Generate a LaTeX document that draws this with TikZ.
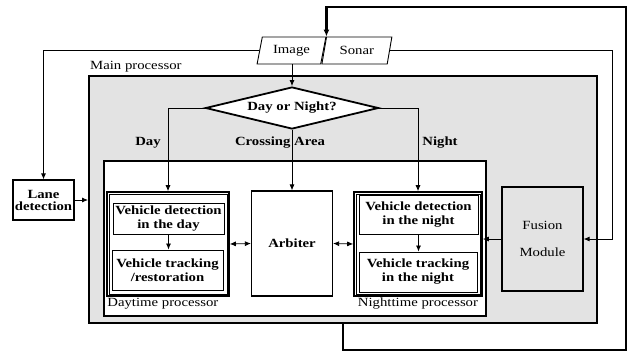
\documentclass[tikz,border=0pt]{standalone}
\usepackage{fontspec}
\setmainfont[FakeStretch=1.18]{Liberation Serif}
\usepackage{tikz}
\usetikzlibrary{positioning,shapes.geometric,arrows.meta}

\begin{document}
\begin{tikzpicture}[x=1pt,y=-1pt,
font=\fontsize{12.5}{14}\selectfont,
box/.style={draw,rectangle,line width=0.9pt,inner sep=1pt,align=center,font=\fontsize{12.5}{14}\selectfont\bfseries},
bigbox/.style={draw,rectangle,line width=1.5pt,align=center},
procbox/.style={draw,rectangle,line width=1.6pt},
iobox/.style={draw,trapezium,trapezium left angle=75,trapezium right angle=105,trapezium stretches=true,line width=0.9pt,minimum height=27pt,inner sep=1pt,fill=white},
branch/.style={font=\fontsize{12.5}{14}\selectfont\bfseries,inner sep=0pt},
flow/.style={line width=0.8pt,-{Latex[length=6pt,width=5pt]}},
both/.style={line width=0.8pt,{Latex[length=6pt,width=5pt]}-{Latex[length=6pt,width=5pt]}},
loopline/.style={line width=2.2pt,-{Latex[length=7pt,width=6pt]}}]

\useasboundingbox (0,0) rectangle (631,354);

% main processor
\node (main) [bigbox,line width=2pt,fill=gray!22,minimum width=508pt,minimum height=247pt] at (343,199.5) {};
\node (mainlbl) [above right=3pt and 2pt of main.north west,inner sep=0pt] {Main processor};

% inputs
\node (image) [iobox,minimum width=69pt] at (291.5,50.5) {Image};
\node (sonar) [iobox,minimum width=70pt,right=0pt of image] {Sonar};

\node (dn) [diamond,draw,line width=1.8pt,fill=white,aspect=4,inner sep=0pt,
    minimum width=173pt,minimum height=42pt,font=\fontsize{12.5}{14}\selectfont\bfseries] at (292,108) {Day or Night?};

\node (proc) [bigbox,fill=white,minimum width=382pt,minimum height=155pt] at (295,238.5) {};

% daytime
\node (day) [procbox,minimum width=122pt,minimum height=104pt] at (168,244) {};
\draw[line width=0.6pt] ([shift={(3,3)}]day.north west) rectangle ([shift={(-3,-3)}]day.south east);
\node (daydet) [box,minimum width=111pt,minimum height=31pt] at (168.5,218.5) {Vehicle detection\\in the day};
\node (daytrk) [box,minimum width=111pt,minimum height=40pt] at (167.5,270) {Vehicle tracking\\/restoration};
\node (daylbl) [below right=1pt and 1pt of day.south west,inner sep=0pt] {Daytime processor};

\node (arbiter) [bigbox,line width=1.2pt,minimum width=81pt,minimum height=105pt,font=\fontsize{12.5}{14}\selectfont\bfseries] at (292,243.5) {Arbiter};

% nighttime
\node (night) [procbox,minimum width=128pt,minimum height=104pt] at (418,244) {};
\draw[line width=0.6pt] ([shift={(3,3)}]night.north west) rectangle ([shift={(-3,-3)}]night.south east);
\node (nightdet) [box,minimum width=119pt,minimum height=39pt] at (418.5,214.5) {Vehicle detection\\in the night};
\node (nighttrk) [box,minimum width=118pt,minimum height=40pt] at (418,272) {Vehicle tracking\\in the night};
\node (nightlbl) [below=1pt of night.south,inner sep=0pt] {Nighttime processor};

\node (fusion) [bigbox,line width=1.2pt,minimum width=81pt,minimum height=104pt] at (542.5,239) {Fusion\\[13pt]Module};
\node (lane) [bigbox,line width=1.2pt,inner sep=1pt,minimum width=61pt,minimum height=40pt,
    font=\fontsize{12.5}{12}\selectfont\bfseries] at (43.5,200) {Lane\\detection};

\node (daytxt) [branch] at (148,143) {Day};
\node (crosstxt) [branch] at (280,143) {Crossing Area};
\node (nighttxt) [branch] at (440,143) {Night};

\coordinate (loopse) at (626,350);
\coordinate (loopne) at (626,7);
\coordinate (sonarx) at (612,52);

% connectors
\draw[loopline] (main.south) |- (loopse) -- (loopne) -| (image.top right corner);
\draw[flow] (sonar.east) -| (sonarx |- fusion.east) -- (fusion.east);
\draw[flow] (image.west) -| (lane.north);
\draw[flow] (image.south -| dn.north) -- (dn.north);
\draw[flow] (dn.west) -| (day.north);
\draw[flow] (dn.east) -| (night.north);
\draw[flow] (dn.south) -- (arbiter.north);
\draw[flow] (daydet.south) -- (daydet.south |- daytrk.north);
\draw[flow] (nightdet.south) -- (nightdet.south |- nighttrk.north);
\draw[both] (day.east) -- (arbiter.west);
\draw[both] (arbiter.east) -- (night.west);
\draw[flow] (fusion.west) -- (fusion.west -| night.east);
\draw[flow] (lane.east) -- (lane.east -| main.west);
\end{tikzpicture}
\end{document}
